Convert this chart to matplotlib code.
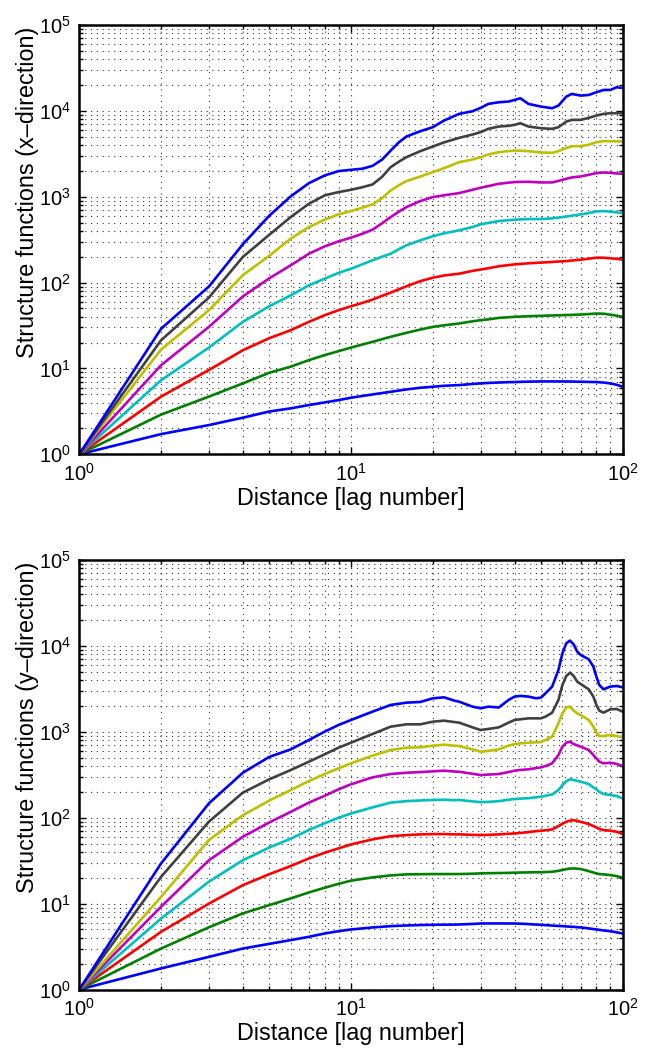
import matplotlib
matplotlib.use('Agg')
import matplotlib.pyplot as plt
from matplotlib.ticker import LogLocator, LogFormatterMathtext, NullFormatter

plt.rcParams['font.family'] = ['Liberation Sans', 'DejaVu Sans']
plt.rcParams['mathtext.fontset'] = 'custom'
plt.rcParams['mathtext.rm'] = 'Liberation Sans'
plt.rcParams['mathtext.default'] = 'regular'

# lags sampled along x (top) and y (bottom)
lags_x = [1, 2, 3, 4, 5, 6, 7, 8, 9, 10, 11, 12, 13, 14, 15, 16, 18, 20, 22, 25, 28, 30,
          32, 35, 38, 40, 42, 45, 50, 55, 58, 62, 65, 70, 75, 80, 85, 90, 95, 100]

sf_x_q1 = [1, 1.72, 2.19, 2.67, 3.15, 3.43, 3.75, 4.02, 4.28, 4.56, 4.78, 4.98, 5.17, 5.35, 5.53, 5.7, 5.96, 6.12, 6.28, 6.4, 6.6, 6.7,
           6.78, 6.86, 6.92, 6.94, 6.98, 7.02, 7.06, 7.06, 7.06, 7.05, 7.04, 7.0, 6.97, 6.94, 6.85, 6.7, 6.45, 6.12]
sf_x_q2 = [1, 2.9, 4.7, 6.7, 8.9, 10.5, 12.5, 14.3, 15.9, 17.5, 19, 20.4, 21.9, 23.4, 24.7, 26, 28.4, 30.5, 31.8, 33.4, 35.4, 36.5,
           37.3, 38.8, 39.5, 39.9, 40.2, 40.6, 41, 41.4, 41.6, 41.9, 42.1, 42.5, 43, 43.6, 43.4, 42.3, 41.2, 39.9]
sf_x_q3 = [1, 4.7, 9.6, 16.3, 22.5, 27.9, 34.9, 41.7, 47.7, 53, 58, 63.4, 70, 76.5, 83.5, 90.6, 104, 114, 121, 127, 137, 142,
           147, 155, 160, 163, 165, 168, 171, 174, 176, 178, 181, 185, 190, 195, 195, 192, 189, 185]
sf_x_q4 = [1, 7.3, 17.5, 34.9, 53, 71, 93, 111, 130, 145, 163, 182, 200, 217, 245, 272, 311, 346, 375, 406, 444, 477,
           495, 521, 533, 540, 545, 550, 550, 560, 572, 588, 601, 623, 646, 675, 681, 670, 658, 646]
sf_x_q5 = [1, 10.9, 30.5, 69, 112, 159, 217, 264, 302, 334, 370, 413, 490, 580, 670, 758, 891, 991, 1040, 1103, 1206, 1273,
           1330, 1416, 1460, 1482, 1490, 1494, 1468, 1468, 1530, 1620, 1679, 1723, 1803, 1884, 1918, 1900, 1870, 1851]
sf_x_q6 = [1, 16.6, 47.7, 122, 205, 325, 444, 540, 623, 681, 745, 814, 960, 1185, 1360, 1521, 1723, 1936, 2150, 2530, 2717, 2892,
           3105, 3306, 3400, 3456, 3440, 3396, 3280, 3250, 3400, 3700, 3884, 3884, 4030, 4320, 4440, 4440, 4420, 4400]
sf_x_q7 = [1, 21.3, 67, 199, 360, 580, 829, 1037, 1133, 1206, 1290, 1391, 1700, 2213, 2560, 2892, 3396, 3848, 4300, 4853, 5310, 5650,
           6180, 6575, 6700, 6875, 7190, 6575, 6285, 6180, 6460, 7515, 7860, 7860, 8290, 8830, 9230, 9390, 9400, 9390]
sf_x_q8 = [1, 29, 90, 280, 600, 1010, 1440, 1770, 1990, 2060, 2120, 2290, 2700, 3450, 4300, 5030, 5800, 6460, 7720, 9230, 9910, 10840,
           12060, 12610, 12850, 13430, 14030, 12060, 11230, 10740, 11530, 14680, 15770, 15080, 15340, 16480, 17540, 17540, 18840, 18500]

lags_y = [1, 2, 3, 4, 5, 6, 7, 8, 9, 10, 12, 14, 16, 18, 20, 22, 24, 25, 28, 30, 32, 35, 38,
          40, 42, 45, 48, 50, 52, 55, 58, 60, 62, 64, 66, 68, 70, 75, 78, 80, 82, 85, 90, 95, 100]

sf_y_q1 = [1, 1.76, 2.4, 3.0, 3.4, 3.76, 4.11, 4.49, 4.78, 5.0, 5.28, 5.47, 5.57, 5.63, 5.67, 5.69, 5.7, 5.72, 5.8, 5.87, 5.88, 5.88, 5.87,
           5.87, 5.84, 5.78, 5.7, 5.67, 5.62, 5.55, 5.5, 5.47, 5.43, 5.39, 5.36, 5.32, 5.28, 5.15, 5.06, 5.0, 4.95, 4.87, 4.78, 4.63, 4.49]
sf_y_q2 = [1, 3.0, 5.3, 7.7, 9.6, 11.5, 13.5, 15.3, 17, 18.5, 20.2, 21.3, 21.9, 22, 22.1, 22.1, 22.1, 22.1, 22.3, 22.5, 22.6, 22.7, 22.8,
           22.9, 23, 23.1, 23.2, 23.2, 23.3, 23.5, 24.1, 24.6, 25.2, 25.6, 25.7, 25.5, 25.3, 23.9, 23, 22.5, 22.1, 21.9, 21.5, 20.9, 20]
sf_y_q3 = [1, 4.7, 10, 16.4, 22, 27.4, 33.6, 39.1, 44, 48.9, 56, 61, 62.8, 64, 64.5, 64.5, 64, 64, 63.2, 62.8, 63.2, 64, 65,
           65.7, 66.5, 68, 69.8, 70.6, 71.5, 73.1, 80, 85, 89.8, 92.5, 93.5, 92, 89.8, 84.4, 80, 77.1, 74, 71.8, 70.6, 68.7, 64.5]
sf_y_q4 = [1, 6.7, 18, 32, 45, 57, 72, 86, 100, 112, 132, 150, 156, 159, 161, 162, 160, 161, 155, 152, 153, 156, 162,
           165, 167, 169, 173, 176, 180, 187, 210, 240, 267, 280, 275, 269, 263, 247, 225, 214, 200, 189, 184, 179, 168]
sf_y_q5 = [1, 9.2, 32, 60, 88, 117, 150, 180, 214, 245, 295, 323, 334, 340, 347, 353, 345, 343, 325, 314, 318, 323, 340,
           353, 360, 366, 378, 386, 400, 430, 537, 672, 748, 769, 721, 695, 672, 614, 537, 491, 449, 430, 437, 423, 400]
sf_y_q6 = [1, 12, 55, 107, 158, 210, 267, 323, 376, 430, 528, 614, 654, 660, 690, 709, 690, 684, 625, 587, 600, 625, 690,
           721, 735, 748, 755, 761, 803, 879, 1256, 1643, 1929, 1964, 1765, 1643, 1570, 1374, 1149, 977, 894, 894, 919, 894, 863]
sf_y_q7 = [1, 20.5, 90, 196, 280, 359, 449, 547, 654, 748, 944, 1149, 1223, 1223, 1313, 1349, 1300, 1280, 1128, 1050, 1080, 1128, 1279,
           1374, 1400, 1436, 1436, 1436, 1503, 1672, 2350, 3513, 4470, 4890, 4470, 3840, 3610, 3127, 2570, 2055, 1765, 1672, 1829, 1845, 1718]
sf_y_q8 = [1, 29.4, 147, 334, 510, 625, 803, 1005, 1202, 1374, 1718, 2055, 2187, 2228, 2456, 2522, 2307, 2245, 1964, 1879, 1964, 1920, 2350,
           2570, 2620, 2570, 2460, 2500, 2810, 3360, 5250, 8220, 10740, 11540, 10400, 8590, 7860, 6990, 5740, 4390, 3513, 3127, 3360, 3420, 3300]

colors = [(0, 0, 1), (0, 0.5, 0), (1, 0, 0), (0, 0.75, 0.75),
          (0.75, 0, 0.75), (0.75, 0.75, 0), (0.25, 0.25, 0.25), (0, 0, 1)]

panels = [
    (lags_x, [sf_x_q1, sf_x_q2, sf_x_q3, sf_x_q4, sf_x_q5, sf_x_q6, sf_x_q7, sf_x_q8],
     'Structure functions (x\u2013direction)', [0.1214, 0.5665, 0.8322, 0.4096]),
    (lags_y, [sf_y_q1, sf_y_q2, sf_y_q3, sf_y_q4, sf_y_q5, sf_y_q6, sf_y_q7, sf_y_q8],
     'Structure functions (y\u2013direction)', [0.1214, 0.0558, 0.8322, 0.4098]),
]

fig = plt.figure(figsize=(6.53, 10.48), dpi=100)

for lags, series, ylab, rect in panels:
    ax = fig.add_axes(rect)
    for vals, c in zip(series, colors):
        ax.plot(lags, vals, color=c, lw=1.9)
    ax.set_xscale('log')
    ax.set_yscale('log')
    ax.set_xlim(1, 100)
    ax.set_ylim(1, 1e5)
    ax.xaxis.set_major_locator(LogLocator(base=10, numticks=10))
    ax.yaxis.set_major_locator(LogLocator(base=10, numticks=10))
    ax.xaxis.set_minor_locator(LogLocator(base=10, subs=range(2, 10), numticks=20))
    ax.yaxis.set_minor_locator(LogLocator(base=10, subs=range(2, 10), numticks=20))
    ax.xaxis.set_major_formatter(LogFormatterMathtext())
    ax.yaxis.set_major_formatter(LogFormatterMathtext())
    ax.xaxis.set_minor_formatter(NullFormatter())
    ax.yaxis.set_minor_formatter(NullFormatter())
    # matlab-like dotted grid on every decade and sub-decade
    ax.grid(True, which='both', linestyle=(0, (1, 4.2)), color='0.2', lw=0.8)
    ax.set_axisbelow(True)
    ax.tick_params(which='both', direction='in', top=True, right=True, labelsize=14.5, width=1)
    ax.tick_params(which='major', length=5, pad=6)
    ax.tick_params(which='minor', length=3)
    for s in ax.spines.values():
        s.set_linewidth(1.8)
    ax.set_xlabel('Distance [lag number]', fontsize=16.8)
    ax.set_ylabel(ylab, fontsize=16.8)
    ax.xaxis.set_label_coords(0.5, -0.076)
    ax.yaxis.set_label_coords(-0.074, 0.61)

fig.savefig('out.png', dpi=100)
